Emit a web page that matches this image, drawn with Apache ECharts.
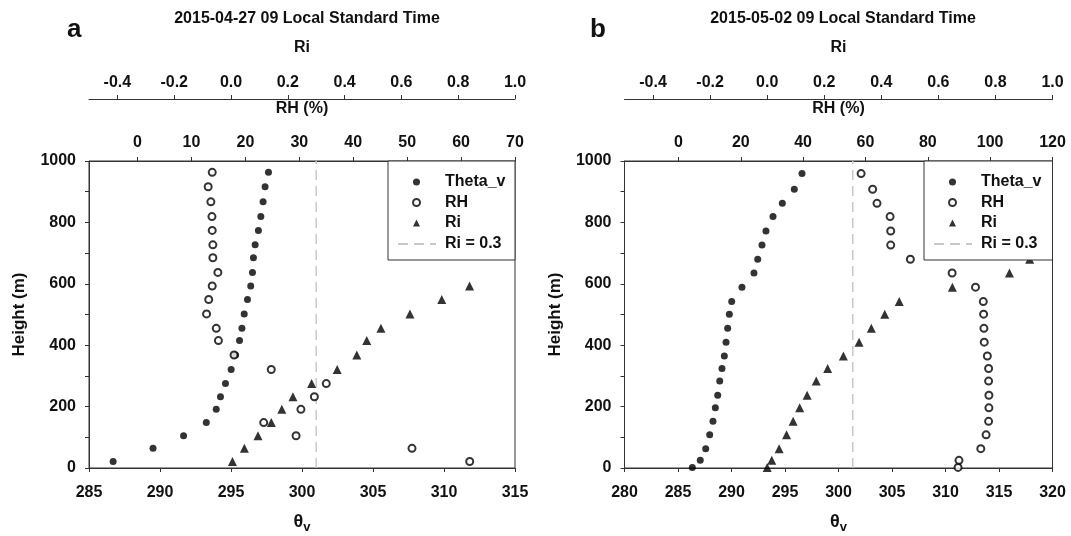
<!DOCTYPE html>
<html><head><meta charset="utf-8">
<script src="https://cdn.jsdelivr.net/npm/echarts@6/dist/echarts.min.js"></script>
<style>html,body{margin:0;padding:0;background:#fff}#c{width:1071px;height:536px}</style>
</head><body><div id="c"></div>
<script>
// ---------- Panel a: 2015-04-27 09 LST (from bottom) ----------
const heightsA = [21, 64, 105, 148, 191, 232, 275, 321, 368, 415, 455, 502, 549, 593, 637, 685, 727, 774, 819, 867, 916, 963];
const thetaA = [286.70, 289.51, 291.66, 293.26, 293.96, 294.26, 294.61, 295.01, 295.32, 295.60, 295.77, 295.93, 296.16, 296.39, 296.51, 296.58, 296.70, 296.93, 297.10, 297.26, 297.40, 297.64];
const rhA = [61.6, 50.9, 29.4, 23.4, 30.3, 32.8, 35.0, 24.8, 17.9, 15.0, 14.6, 12.8, 13.2, 13.85, 14.9, 13.97, 13.97, 13.85, 13.8, 13.6, 13.1, 13.85];
const riA = [0.005, 0.047, 0.095, 0.142, 0.179, 0.218, 0.284, 0.374, 0.443, 0.478, 0.528, 0.630, 0.742, 0.840];

// ---------- Panel b: 2015-05-02 09 LST (from bottom) ----------
const heightsB = [2, 25, 63, 108, 152, 196, 237, 283, 324, 365, 410, 455, 501, 542, 589, 635, 680, 726, 772, 819, 862, 908, 959];
const thetaB = [286.34, 287.08, 287.59, 287.96, 288.27, 288.49, 288.71, 288.90, 289.11, 289.33, 289.49, 289.64, 289.80, 290.02, 290.98, 292.10, 292.45, 292.85, 293.22, 293.88, 294.75, 295.87, 296.59];
const rhB = [89.7, 90.0, 97.0, 98.7, 99.5, 99.6, 99.6, 99.5, 99.5, 99.1, 98.1, 98.0, 97.9, 97.8, 95.3, 87.8, 74.4, 68.1, 68.1, 67.9, 63.7, 62.3, 58.6];
const riB = [0.0, 0.016, 0.042, 0.068, 0.091, 0.114, 0.140, 0.172, 0.212, 0.267, 0.322, 0.365, 0.412, 0.463, 0.649, 0.849, 0.92];

const riCrit = 0.3;
const riTicks = [-0.4, -0.2, 0.0, 0.2, 0.4, 0.6, 0.8, 1.0];
const rhTicksA = [0, 10, 20, 30, 40, 50, 60, 70];
const rhTicksB = [0, 20, 40, 60, 80, 100, 120];
const titles = ['2015-04-27 09 Local Standard Time', '2015-05-02 09 Local Standard Time'];
const panelLetters = ['a', 'b'];
const seriesNames = ['Theta_v', 'RH', 'Ri', 'Ri = 0.3'];

const FONT = '"Liberation Sans", Arial, sans-serif';
const AX = '#333';
const txt = {color: '#111', fontFamily: FONT, fontWeight: 'bold', fontSize: 16};

function pairs(xs, hs) { return xs.map((v, i) => [v, hs[i]]); }

function bottomAxis(grid, min, max) {
  return {
    type: 'value', gridIndex: grid, position: 'bottom', min: min, max: max, interval: 5,
    name: '{t|θ}{s|v}', nameLocation: 'middle', nameGap: 43,
    nameTextStyle: {rich: {t: Object.assign({}, txt, {fontSize: 18}), s: Object.assign({}, txt, {fontSize: 13, padding: [10, 0, 0, 0]})}},
    axisLine: {show: true, onZero: false, lineStyle: {color: AX, width: 1}},
    axisTick: {show: true, inside: false, length: 4, lineStyle: {color: AX}},
    axisLabel: Object.assign({}, txt, {margin: 17}),
    splitLine: {show: false}
  };
}
function rhAxis(grid, min, max, ticks) {
  return {
    type: 'value', gridIndex: grid, position: 'top', min: min, max: max,
    name: 'RH (%)', nameLocation: 'middle', nameGap: 44, nameTextStyle: txt,
    axisLine: {show: true, onZero: false, lineStyle: {color: AX, width: 1}},
    axisTick: {show: true, inside: false, length: 4, customValues: ticks, lineStyle: {color: AX}},
    axisLabel: Object.assign({}, txt, {margin: 10, customValues: ticks}),
    splitLine: {show: false}
  };
}
function riAxis(grid) {
  return {
    type: 'value', gridIndex: grid, position: 'top', offset: 62, min: -0.5, max: 1.0,
    name: 'Ri', nameLocation: 'middle', nameGap: 43, nameTextStyle: txt,
    axisLine: {show: true, onZero: false, lineStyle: {color: AX, width: 1}},
    axisTick: {show: true, inside: false, length: 4, customValues: riTicks, lineStyle: {color: AX}},
    axisLabel: Object.assign({}, txt, {margin: 8, customValues: riTicks, formatter: v => Number(v).toFixed(1)}),
    splitLine: {show: false}
  };
}
function yAxis(grid) {
  return {
    type: 'value', gridIndex: grid, min: 0, max: 1000, interval: 100,
    name: 'Height (m)', nameLocation: 'middle', nameGap: 61, nameTextStyle: Object.assign({}, txt, {fontSize: 17}),
    axisLine: {show: true, onZero: false, lineStyle: {color: AX, width: 1}},
    axisTick: {show: true, inside: false, length: 4, lineStyle: {color: AX}},
    axisLabel: Object.assign({}, txt, {margin: 13, formatter: v => (v % 200 === 0 ? String(v) : '')}),
    splitLine: {show: false}
  };
}
function panelSeries(p, xBase, theta, rh, ri, hs) {
  return [
    {name: seriesNames[0], type: 'scatter', xAxisIndex: xBase, yAxisIndex: p, symbol: 'circle', symbolSize: 7,
     itemStyle: {color: '#000'}, data: pairs(theta, hs), z: 3},
    {name: seriesNames[1], type: 'scatter', xAxisIndex: xBase + 1, yAxisIndex: p, symbol: 'emptyCircle', symbolSize: 7,
     itemStyle: {color: '#000', borderWidth: 1}, data: pairs(rh, hs), z: 3},
    {name: seriesNames[2], type: 'scatter', xAxisIndex: xBase + 2, yAxisIndex: p, symbol: 'triangle', symbolSize: 9,
     itemStyle: {color: '#000'}, data: pairs(ri, hs), z: 3},
    {name: seriesNames[3], type: 'line', xAxisIndex: xBase + 2, yAxisIndex: p, symbol: 'none', silent: true,
     itemStyle: {color: 'rgba(0,0,0,0)'},
     lineStyle: {color: '#c8c8c8', width: 1.5, type: [10, 6]}, data: [[riCrit, 0], [riCrit, 1000]], z: 2}
  ];
}
function symbolLegend(left) {
  return {
    orient: 'vertical', left: left, top: 174, padding: 0, z: 20, itemWidth: 7, itemHeight: 7, itemGap: 4.5,
    textStyle: Object.assign({}, txt, {padding: [0, 0, 0, 20]}),
    data: [
      {name: seriesNames[0], icon: 'circle'},
      {name: seriesNames[1], icon: 'emptyCircle'},
      {name: seriesNames[2], icon: 'triangle'}
    ],
    selectedMode: false
  };
}
function lineLegend(left) {
  return {
    orient: 'vertical', left: left, top: 236, padding: 0, z: 20, itemWidth: 38, itemHeight: 7,
    textStyle: Object.assign({}, txt, {padding: [0, 0, 0, 4]}),
    data: [{name: seriesNames[3]}],
    selectedMode: false
  };
}

const gridBase = {top: 161, height: 307, show: true, borderColor: AX, borderWidth: 1, backgroundColor: 'transparent', outerBoundsMode: 'none', containLabel: false};

const option = {
  backgroundColor: '#fff',
  animation: false,
  title: [
    {text: titles[0], left: 302, top: 6, textAlign: 'center', textStyle: txt},
    {text: titles[1], left: 838, top: 6, textAlign: 'center', textStyle: txt},
    {text: panelLetters[0], left: 62, top: 12, textStyle: Object.assign({}, txt, {fontSize: 26})},
    {text: panelLetters[1], left: 585, top: 12, textStyle: Object.assign({}, txt, {fontSize: 26})}
  ],
  grid: [
    Object.assign({left: 89, width: 426}, gridBase),
    Object.assign({left: 624.5, width: 428}, gridBase)
  ],
  xAxis: [
    bottomAxis(0, 285, 315), rhAxis(0, -9, 70, rhTicksA), riAxis(0),
    bottomAxis(1, 280, 320), rhAxis(1, -17.3, 120, rhTicksB), riAxis(1)
  ],
  yAxis: [yAxis(0), yAxis(1)],
  legend: [symbolLegend(412), lineLegend(397), symbolLegend(948), lineLegend(933)],
  graphic: [
    {type: 'rect', z: 15, shape: {x: 388, y: 161, width: 127, height: 99}, style: {fill: '#fff', stroke: AX, lineWidth: 1}},
    {type: 'rect', z: 15, shape: {x: 924, y: 161, width: 128.5, height: 99}, style: {fill: '#fff', stroke: AX, lineWidth: 1}}
  ],
  series: [].concat(
    panelSeries(0, 0, thetaA, rhA, riA, heightsA),
    panelSeries(1, 3, thetaB, rhB, riB, heightsB)
  )
};
const chart = echarts.init(document.getElementById('c'), null, {renderer: 'canvas'});
chart.setOption(option);
</script></body></html>
